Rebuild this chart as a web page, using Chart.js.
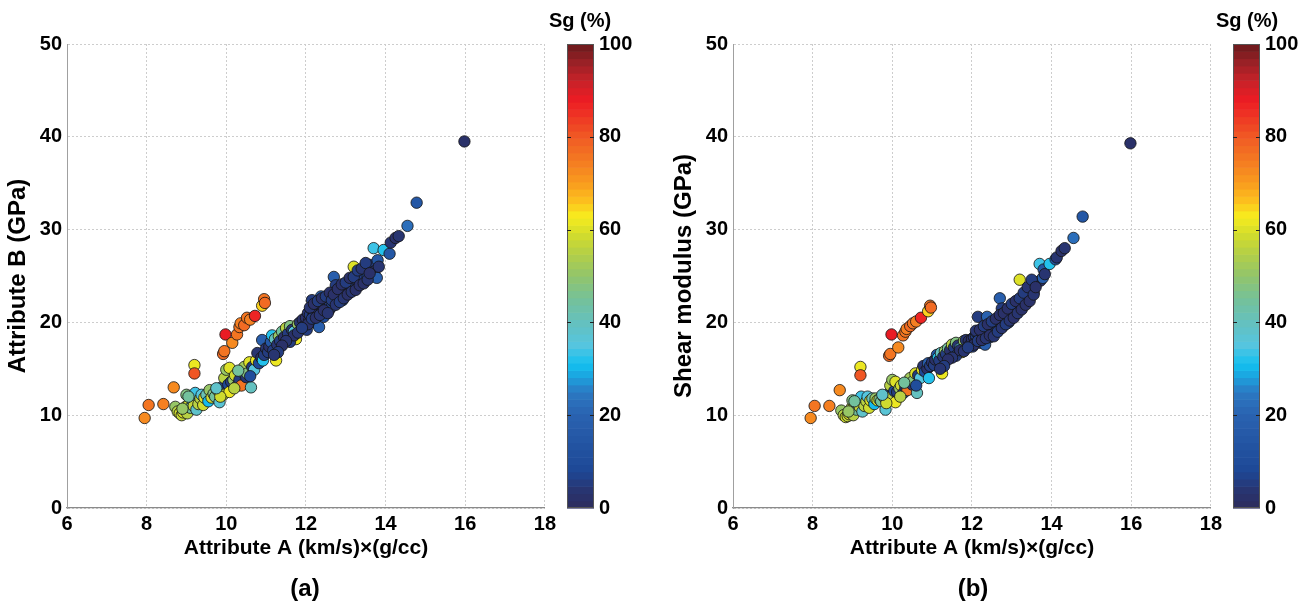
<!DOCTYPE html>
<html><head><meta charset="utf-8">
<script src="https://cdn.jsdelivr.net/npm/chart.js@4.4.0/dist/chart.umd.min.js"></script>
<style>
body{margin:0;background:#fff;width:1310px;height:605px;position:relative;overflow:hidden;font-family:'Liberation Sans',Arial,sans-serif;}
canvas{position:absolute;top:0;}
.lbl{position:absolute;font-weight:bold;color:#000;transform:translate(-50%,-50%);white-space:nowrap;}
</style></head><body>
<canvas id="sa" width="560" height="605" style="left:0px"></canvas>
<canvas id="ca" width="90" height="605" style="left:560px"></canvas>
<canvas id="sb" width="560" height="605" style="left:666px"></canvas>
<canvas id="cb" width="90" height="605" style="left:1226px"></canvas>
<div class="lbl" style="left:580px;top:20px;font-size:20px">Sg (%)</div>
<div class="lbl" style="left:1247px;top:20px;font-size:20px">Sg (%)</div>
<div class="lbl" style="left:305px;top:588px;font-size:24px">(a)</div>
<div class="lbl" style="left:973px;top:588px;font-size:24px">(b)</div>
<script>
// ---- data ----
const attrA = [7.95,8.05,8.42,8.68,9.2,9.2,9.92,9.95,9.98,10.15,
10.27,10.33,10.36,10.45,10.52,10.6,10.72,10.9,10.95,10.97,
8.72,8.78,8.83,8.88,8.92,8.95,8.98,9.0,9.02,9.05,
9.1,9.15,9.18,9.22,9.25,9.3,9.35,9.38,9.42,9.45,
9.5,9.55,9.58,9.63,9.68,9.72,9.78,9.83,9.88,9.92,
9.95,10.0,10.05,10.08,10.08,10.12,10.18,10.22,10.28,10.33,
10.38,10.42,10.45,10.5,10.53,10.58,10.62,10.65,10.7,10.75,
10.78,10.82,10.88,10.9,10.92,10.95,11.0,11.05,11.08,11.12,
11.15,11.18,11.22,11.25,11.28,11.32,11.35,11.4,11.45,11.5,
11.55,11.6,11.65,11.7,11.75,11.8,11.85,11.92,11.95,12.0,
12.02,12.05,12.08,12.1,12.12,12.15,12.18,12.2,12.22,12.25,
12.28,12.3,12.33,12.35,12.38,12.4,12.42,12.45,12.48,12.5,
12.52,12.55,12.58,12.6,12.62,12.65,12.68,12.7,12.72,12.75,
12.78,12.8,12.82,12.85,12.88,12.9,12.92,12.95,12.98,13.0,
13.02,13.05,13.08,13.1,13.12,13.15,13.18,13.2,13.22,13.25,
13.28,13.3,13.35,13.4,13.45,13.5,13.55,13.6,13.7,13.72,
13.78,13.8,13.83,13.95,14.1,14.13,14.25,14.33,14.55,14.78,
15.98,
12.05,12.1,12.15,12.2,12.25,12.3,12.35,12.4,12.45,12.5,
12.55,12.6,12.65,12.7,12.75,12.8,12.85,12.9,12.95,13.0,
13.05,13.1,13.15,13.2,13.25,13.3,13.35,13.4,13.45,13.5,
13.55,13.6,11.6,11.7,11.8,11.9,11.5,11.4,11.3,11.2,
10.3,10.2,10.6,9.85,9.75,9.05,8.9];
const attributeB = [9.7,11.1,11.2,13.0,15.4,14.5,16.6,16.9,18.7,17.8,
18.7,19.5,19.9,19.7,20.5,20.3,20.7,21.8,22.5,22.1,
10.9,10.4,10.2,10.0,10.3,10.6,10.9,12.2,10.2,11.1,
10.8,11.6,11.0,12.4,10.6,11.2,11.8,12.2,11.1,11.9,
12.2,11.5,12.7,11.9,12.3,12.0,12.7,11.4,13.0,12.2,
14.0,14.9,13.3,15.1,12.5,13.6,13.8,14.3,13.2,13.8,
13.2,14.6,15.2,14.1,14.5,15.7,13.0,15.2,14.9,15.9,
16.7,15.6,16.2,18.1,15.9,16.5,17.2,16.8,17.4,17.9,
18.6,17.0,18.2,15.9,17.6,18.5,18.0,19.0,18.4,19.4,
18.8,19.6,19.2,19.0,18.2,19.8,20.0,20.3,19.6,20.5,
19.2,21.0,20.2,20.8,21.5,22.4,20.6,21.2,20.0,21.8,
20.9,21.4,19.5,22.0,22.8,21.2,21.7,20.6,22.2,21.5,
21.9,22.5,21.3,22.0,22.8,21.7,22.3,24.9,22.6,24.0,
22.1,23.0,22.5,23.3,22.8,23.6,22.4,23.1,23.8,22.9,
23.5,24.2,23.2,23.9,24.5,23.6,24.2,26.0,24.8,23.9,
24.5,25.0,24.3,25.2,24.7,25.6,25.0,26.2,28.0,25.5,
24.8,26.7,26.0,27.8,27.4,28.6,29.1,29.3,30.4,32.9,
39.5,
19.8,21.6,20.4,22.0,20.5,22.3,20.8,22.6,21.3,22.8,
21.0,23.2,22.4,23.0,21.9,23.6,22.2,24.1,22.6,24.3,
23.0,24.8,23.3,24.9,23.5,25.6,24.0,25.8,24.2,26.4,
24.6,25.3,17.9,18.6,18.9,19.4,18.0,17.5,16.8,16.5,
14.8,12.9,14.2,12.0,12.9,12.0,10.7];
const shearModulus = [9.7,11.0,11.0,12.7,15.2,14.3,16.4,16.6,18.7,17.3,
18.6,19.0,19.3,19.6,19.9,20.1,20.5,21.2,21.8,21.6,
10.5,10.0,9.8,9.9,10.1,10.3,10.8,11.6,10.0,10.9,
10.6,11.2,10.9,12.0,10.4,11.0,11.5,12.0,10.8,11.6,
11.8,11.2,11.8,11.6,11.7,11.5,12.0,10.6,12.2,11.9,
13.2,13.8,12.6,13.6,11.4,12.5,12.9,13.2,12.4,13.0,
12.7,13.6,14.0,13.3,13.7,14.5,12.4,14.3,14.0,14.9,
15.3,14.7,15.0,15.6,14.0,15.3,15.7,15.4,16.0,16.5,
16.2,15.9,16.7,14.5,16.3,16.9,16.6,17.2,17.0,17.6,
17.3,17.8,17.5,17.2,16.8,18.0,18.1,18.0,17.6,18.2,
17.4,18.4,17.9,18.6,18.9,20.6,18.2,18.5,17.8,19.0,
18.5,18.8,17.6,19.3,20.6,18.7,19.0,18.4,19.4,18.9,
19.2,19.6,19.0,19.4,19.9,19.3,19.7,22.6,19.9,21.5,
19.6,20.3,20.0,20.6,20.2,20.9,20.0,20.6,21.2,20.5,
21.0,21.6,20.9,21.4,22.0,21.3,21.8,24.6,22.5,21.7,
22.3,22.8,22.2,23.2,22.7,23.6,23.2,24.3,26.3,24.5,
24.8,25.7,25.2,26.3,26.8,27.0,27.7,28.0,29.1,31.4,
39.3,
17.6,19.1,18.0,19.2,18.1,19.6,18.3,19.8,18.6,20.1,
18.5,20.4,19.0,20.8,19.4,21.0,19.8,21.5,20.2,22.0,
20.5,22.3,21.0,22.6,21.4,23.2,21.9,23.8,22.3,24.6,
23.0,23.8,16.4,17.0,16.9,17.3,16.2,16.0,15.3,15.0,
13.5,12.0,13.2,11.3,12.2,11.5,10.4];
const sgPct = [72,76,74,73,62,80,78,76,88,72,
76,75,74,77,76,74,87,65,76,78,
50,55,58,57,60,52,56,47,55,58,
45,35,57,33,38,56,55,35,58,60,
42,30,50,58,48,45,52,37,5,56,
55,50,8,60,62,6,50,58,12,5,
75,45,52,4,48,60,40,5,35,62,
4,8,3,18,32,5,4,6,3,15,
32,5,40,62,4,50,6,45,3,55,
5,48,4,35,62,50,4,3,5,2,
6,4,3,5,8,5,3,2,4,6,
3,4,18,2,20,5,3,8,4,2,
6,3,4,5,2,7,3,18,4,5,
3,2,6,4,3,5,12,2,4,3,
6,4,2,5,3,8,4,60,3,5,
2,6,4,3,5,4,10,5,33,3,
18,15,4,32,15,4,3,4,22,15,
3,
3,4,6,3,2,5,4,3,2,6,
4,3,5,2,4,3,6,2,4,5,
3,2,4,6,3,5,2,4,3,6,
4,3,5,3,4,6,4,3,5,4,
45,55,10,58,38,44,50];
const xTickVals = [6,8,10,12,14,16,18];
const yTickVals = [0,10,20,30,40,50];
const cbTickVals = [0,20,40,60,80,100];
const xTitle = 'Attribute A (km/s)×(g/cc)';
const yTitleA = 'Attribute B (GPa)';
const yTitleB = 'Shear modulus (GPa)';

// ---- colormap (style) ----
const cmapStops = [
 [0,'#2d2c5c'],[4,'#283572'],[8,'#1e4896'],[14,'#2355a3'],[20,'#2a62b0'],[25,'#2b78c2'],
 [28,'#1e9fdc'],[31,'#12c0f0'],[35,'#55c5e0'],[40,'#64c1bf'],[45,'#74c19a'],[50,'#92c46c'],
 [55,'#b5d046'],[59,'#d2dc2c'],[63,'#f8ec1e'],[66,'#fcc21e'],[70,'#f99d1e'],[75,'#f47a22'],
 [80,'#f05a24'],[85,'#ee3124'],[88,'#ec1c24'],[92,'#c82229'],[96,'#9a2126'],[100,'#6a1a1c']
];
function hex2rgb(h){return [parseInt(h.slice(1,3),16),parseInt(h.slice(3,5),16),parseInt(h.slice(5,7),16)];}
function sgColor(v){
  const q = Math.min(63, Math.floor(v/100*64));
  const vv = (q+0.5)*100/64;
  for(let i=1;i<cmapStops.length;i++){
    if(vv<=cmapStops[i][0]){
      const [v0,c0]=cmapStops[i-1],[v1,c1]=cmapStops[i];
      const t=(vv-v0)/(v1-v0); const a=hex2rgb(c0), b=hex2rgb(c1);
      return `rgb(${a.map((c,k)=>Math.round(c+(b[k]-c)*t)).join(',')})`;
    }
  }
  return cmapStops[cmapStops.length-1][1];
}

const FAM = "'Liberation Sans', Arial, sans-serif";
const tickFont = {family:FAM,size:20,weight:'bold'};

function scatterConfig(yVals, yTitle){
  return {
    type:'scatter',
    data:{datasets:[{
      data: attrA.map((x,i)=>({x:x,y:yVals[i]})),
      pointRadius:5.7, pointHoverRadius:5.7,
      pointBorderWidth:0.9, pointBorderColor:'rgba(20,20,20,0.9)',
      pointBackgroundColor: c=>sgColor(sgPct[c.dataIndex])
    }]},
    options:{
      responsive:false, animation:false, devicePixelRatio:1,
      layout:{padding:{left:0,top:44,right:13,bottom:37}},
      plugins:{legend:{display:false},tooltip:{enabled:false}},
      scales:{
        x:{type:'linear',min:6,max:18,
          afterBuildTicks:s=>{s.ticks=xTickVals.map(v=>({value:v}));},
          afterFit:s=>{s.height=60;},
          grid:{color:'#cdcdcd',lineWidth:1,drawTicks:false},
          border:{display:true,color:'#8a8a8a',width:1.3,dash:[2,2]},
          ticks:{color:'#000',font:tickFont,padding:4,maxRotation:0},
          title:{display:true,text:xTitle,color:'#000',font:{family:FAM,size:21,weight:'bold'},padding:{top:0,bottom:7}}
        },
        y:{type:'linear',min:0,max:50,
          afterBuildTicks:s=>{s.ticks=yTickVals.map(v=>({value:v}));},
          afterFit:s=>{s.width=67;},
          grid:{color:'#cdcdcd',lineWidth:1,drawTicks:false},
          border:{display:true,color:'#a0a0a0',width:1,dash:[2,2]},
          ticks:{color:'#000',font:tickFont,padding:5},
          title:{display:true,text:yTitle,color:'#000',font:{family:FAM,size:24,weight:'bold'},padding:{top:4,bottom:0}}
        }
      }
    }
  };
}

const colorbarPlugin = {
  id:'cbar',
  beforeDatasetsDraw(chart){
    const {ctx, chartArea:a, scales:{y}} = chart;
    const n=64;
    for(let i=0;i<n;i++){
      const v0=i*100/n, v1=(i+1)*100/n;
      const p0=y.getPixelForValue(v0), p1=y.getPixelForValue(v1);
      ctx.fillStyle=sgColor((v0+v1)/2);
      ctx.fillRect(a.left,p1,a.right-a.left,p0-p1+0.6);
    }
    ctx.save();
    ctx.strokeStyle='#555';ctx.lineWidth=1;
    ctx.strokeRect(a.left+0.5,a.top+0.5,a.right-a.left-1,a.bottom-a.top-1);
    ctx.strokeStyle='#222';
    cbTickVals.forEach(v=>{
      if(v===0||v===100) return;
      const p=Math.round(y.getPixelForValue(v))+0.5;
      ctx.beginPath();
      ctx.moveTo(a.left,p);ctx.lineTo(a.left+4,p);
      ctx.moveTo(a.right-4,p);ctx.lineTo(a.right,p);
      ctx.stroke();
    });
    ctx.restore();
  }
};

function colorbarConfig(){
  return {
    type:'scatter',
    data:{datasets:[]},
    options:{
      responsive:false, animation:false, devicePixelRatio:1,
      layout:{padding:{left:7,top:44,right:0,bottom:97}},
      plugins:{legend:{display:false},tooltip:{enabled:false}},
      scales:{
        x:{display:false,min:0,max:1},
        y:{position:'right',min:0,max:100,
          afterBuildTicks:s=>{s.ticks=cbTickVals.map(v=>({value:v}));},
          afterFit:s=>{s.width=56;},
          grid:{display:false,drawTicks:false},
          border:{display:false},
          ticks:{color:'#000',font:tickFont,padding:5}
        }
      }
    },
    plugins:[colorbarPlugin]
  };
}

new Chart(document.getElementById('sa'), scatterConfig(attributeB, yTitleA));
new Chart(document.getElementById('sb'), scatterConfig(shearModulus, yTitleB));
new Chart(document.getElementById('ca'), colorbarConfig());
new Chart(document.getElementById('cb'), colorbarConfig());
</script>
</body></html>
